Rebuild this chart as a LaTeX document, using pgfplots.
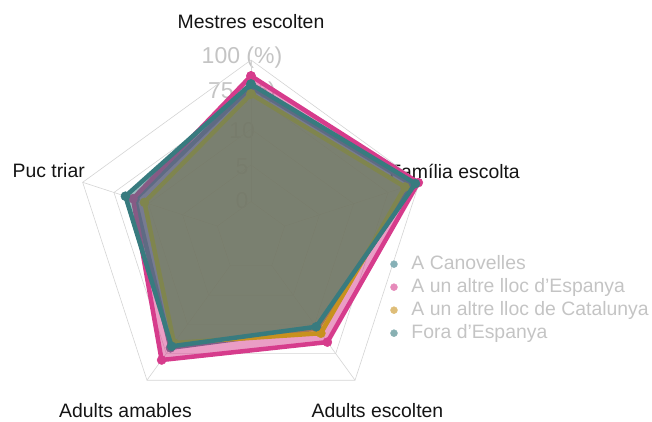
\documentclass[border=0pt]{standalone}
\usepackage{fontspec}
\setmainfont{Liberation Sans}
\usepackage{pgfplots}
\pgfplotsset{compat=1.18}
\usepgfplotslibrary{polar}
\definecolor{cCan}{RGB}{54,124,134}
\definecolor{cEsp}{RGB}{214,60,140}
\definecolor{cCat}{RGB}{200,145,30}
\definecolor{cFor}{RGB}{56,123,127}
\definecolor{gridc}{RGB}{212,212,212}
\definecolor{labgray}{RGB}{196,196,196}
\definecolor{axtext}{RGB}{20,20,20}

\begin{document}
\begin{tikzpicture}
\path[use as bounding box] (0pt,0pt) rectangle (652pt,421pt);
% radial labels and category names sit under the polygons
\begin{scope}[every node/.style={inner sep=0pt, text=labgray, font=\fontsize{23pt}{26pt}\selectfont, anchor=base}]
\node at (242pt,357pt) {100 (\%)};
\node at (242pt,322pt) {75 (\%)};
\node at (242pt,283pt) {10};
\node at (242pt,247pt) {5};
\node at (242pt,213pt) {0};
\end{scope}
\begin{scope}[every node/.style={inner sep=0pt, text=axtext, font=\fontsize{19.4pt}{23pt}\selectfont}]
\node[anchor=base] at (251pt,392pt) {Mestres escolten};
\node[anchor=base east] at (520pt,243pt) {Família escolta};
\node[anchor=base east] at (85pt,244pt) {Puc triar};
\node[anchor=base] at (125.5pt,4pt) {Adults amables};
\node[anchor=base] at (377.5pt,4pt) {Adults escolten};
\end{scope}

\begin{polaraxis}[
  at={(251pt,184pt)}, anchor=center,
  width=354pt, height=354pt, scale only axis,
  ymin=0, ymax=100, hide axis, clip=false, clip marker paths=true,
  legend style={at={(0.885,0.462)}, anchor=north west, draw=none, fill=none,
    font=\fontsize{19.4pt}{23pt}\selectfont, text=labgray, row sep=0pt, column sep=12pt,
    cells={anchor=west}, nodes={inner ysep=2.5pt, text height=14pt, text depth=4pt}},
]
% grid
\addplot[gridc, line width=0.6pt, forget plot] coordinates {(90,100)(18,100)(-54,100)(-126,100)(162,100)(90,100)};
\addplot[gridc, line width=0.6pt, forget plot] coordinates {(90,81.4)(18,81.4)(-54,81.4)(-126,81.4)(162,81.4)(90,81.4)};
\addplot[gridc, line width=0.6pt, forget plot] coordinates {(90,61)(18,61)(-54,61)(-126,61)(162,61)(90,61)};
\addplot[gridc, line width=0.6pt, forget plot] coordinates {(90,40.7)(18,40.7)(-54,40.7)(-126,40.7)(162,40.7)(90,40.7)};
\addplot[gridc, line width=0.6pt, forget plot] coordinates {(90,20)(18,20)(-54,20)(-126,20)(162,20)(90,20)};
\addplot[gridc, line width=0.6pt, forget plot] coordinates {(90,20)(90,100)};
\addplot[gridc, line width=0.6pt, forget plot] coordinates {(18,20)(18,100)};
\addplot[gridc, line width=0.6pt, forget plot] coordinates {(-54,20)(-54,100)};
\addplot[gridc, line width=0.6pt, forget plot] coordinates {(-126,20)(-126,100)};
\addplot[gridc, line width=0.6pt, forget plot] coordinates {(162,20)(162,100)};

% A Canovelles
\addplot[forget plot, draw=none, fill=cCan, fill opacity=0.5] coordinates {(90,84.7)(18,96.0)(-54,63.8)(-126,77.4)(162,68.9)(90,84.7)};
\addplot[forget plot, cCan, line width=4.5pt, line join=round, mark=*, mark size=4.5pt, mark options={line width=0.5pt}] coordinates {(90,84.7)(18,96.0)(-54,63.8)(-126,77.4)(162,68.9)(90,84.7)};
% A un altre lloc d'Espanya
\addplot[forget plot, draw=none, fill=cEsp, fill opacity=0.5] coordinates {(90,91.0)(18,99.4)(-54,73.4)(-126,85.9)(162,70.1)(90,91.0)};
\addplot[forget plot, cEsp, line width=4.5pt, line join=round, mark=*, mark size=4.5pt, mark options={line width=0.5pt}] coordinates {(90,91.0)(18,99.4)(-54,73.4)(-126,85.9)(162,70.1)(90,91.0)};
% A un altre lloc de Catalunya
\addplot[forget plot, draw=none, fill=cCat, fill opacity=0.5] coordinates {(90,80.8)(18,91.5)(-54,67.2)(-126,74.0)(162,63.3)(90,80.8)};
\addplot[forget plot, cCat, line width=4.5pt, line join=round, mark=*, mark size=4.5pt, mark options={line width=0.5pt}] coordinates {(90,80.8)(18,91.5)(-54,67.2)(-126,74.0)(162,63.3)(90,80.8)};
% Fora d'Espanya
\addplot[forget plot, draw=none, fill=cFor, fill opacity=0.5] coordinates {(90,86.4)(18,97.7)(-54,62.7)(-126,76.3)(162,74.6)(90,86.4)};
\addplot[forget plot, cFor, line width=4.5pt, line join=round, mark=*, mark size=4.5pt, mark options={line width=0.5pt}] coordinates {(90,86.4)(18,97.7)(-54,62.7)(-126,76.3)(162,74.6)(90,86.4)};

\addlegendimage{only marks, mark=*, mark size=3.5pt, color=cCan!60}
\addlegendimage{only marks, mark=*, mark size=3.5pt, color=cEsp!60}
\addlegendimage{only marks, mark=*, mark size=3.5pt, color=cCat!60}
\addlegendimage{only marks, mark=*, mark size=3.5pt, color=cFor!60}
\legend{A Canovelles, A un altre lloc d'Espanya, A un altre lloc de Catalunya, Fora d'Espanya}
\end{polaraxis}
\end{tikzpicture}
\end{document}
